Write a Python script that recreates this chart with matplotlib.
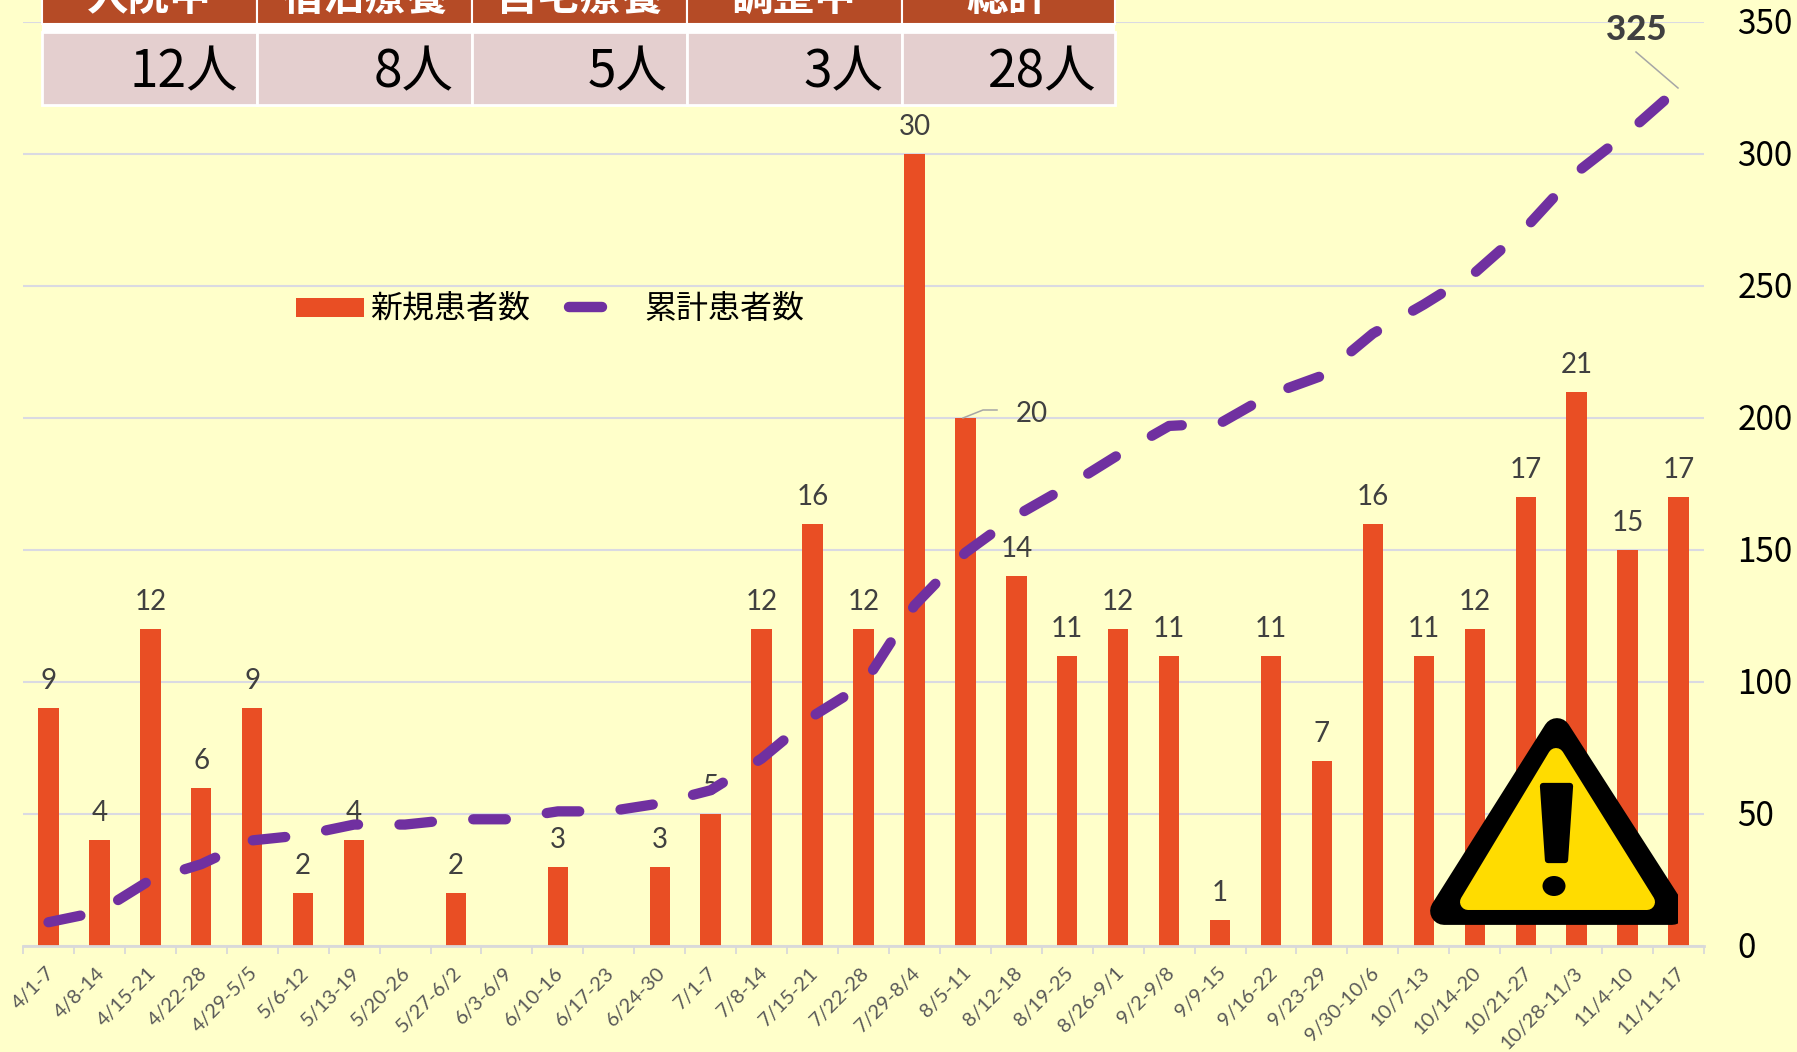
import matplotlib
matplotlib.use('Agg')
import matplotlib.pyplot as plt
from matplotlib.patches import Rectangle, Polygon, Ellipse
from matplotlib.transforms import ScaledTranslation

plt.rcParams['font.family'] = ['Noto Sans CJK JP', 'DejaVu Sans']
plt.rcParams['lines.scale_dashes'] = False

# data
weeks = ['4/1-7', '4/8-14', '4/15-21', '4/22-28', '4/29-5/5', '5/6-12', '5/13-19',
         '5/20-26', '5/27-6/2', '6/3-6/9', '6/10-16', '6/17-23', '6/24-30', '7/1-7',
         '7/8-14', '7/15-21', '7/22-28', '7/29-8/4', '8/5-11', '8/12-18', '8/19-25',
         '8/26-9/1', '9/2-9/8', '9/9-15', '9/16-22', '9/23-29', '9/30-10/6', '10/7-13',
         '10/14-20', '10/21-27', '10/28-11/3', '11/4-10', '11/11-17']
new_cases = [9, 4, 12, 6, 9, 2, 4, 0, 2, 0, 3, 0, 3, 5, 12, 16, 12, 30, 20, 14, 11,
             12, 11, 1, 11, 7, 16, 11, 12, 17, 21, 15, 17]
total_cases = [9, 13, 25, 31, 40, 42, 46, 46, 48, 48, 51, 51, 54, 59, 71, 87, 99, 129,
               149, 163, 174, 186, 197, 198, 209, 216, 232, 243, 255, 272, 293, 308, 325]
right_ticks = [0, 50, 100, 150, 200, 250, 300, 350]

table_head = ['入院中', '宿泊療養', '自宅療養', '調整中', '総計']
table_vals = ['12人', '8人', '5人', '3人', '28人']
legend_new = '新規患者数'
legend_total = '累計患者数'

W, H = 1797, 1052
BG = '#FFFFCA'
ORANGE = '#E94E24'
PURPLE = '#7030A0'
GRID = '#DADAE2'
LABEL = '#404040'

fig = plt.figure(figsize=(W / 100, H / 100), dpi=100, facecolor=BG)
ax = fig.add_axes([23 / W, (H - 946) / H, (1704 - 23) / W, (946 - 22) / H])
ax.set_facecolor(BG)

x = list(range(len(weeks)))
ax.bar(x, new_cases, width=0.4, color=ORANGE, zorder=2)
ax.set_xlim(-0.5, len(weeks) - 0.5)
ax.set_ylim(0, 35)
ax.set_yticks(range(0, 40, 5))
ax.tick_params(axis='y', length=0, labelleft=False)
ax.grid(axis='y', color=GRID, lw=1.5, zorder=0)
ax.set_axisbelow(True)
for s in ['top', 'left', 'right']:
    ax.spines[s].set_visible(False)
ax.spines['bottom'].set_color('#D9D9D9')
ax.spines['bottom'].set_linewidth(2)

ax.set_xticks(x)
ax.set_xticks([i - 0.5 for i in range(len(weeks) + 1)], minor=True)
ax.tick_params(axis='x', which='major', length=0, pad=13)
ax.tick_params(axis='x', which='minor', length=6, width=1.3, color='#D9D9D9')
ax.set_xticklabels(weeks, rotation=45, ha='right', va='top', rotation_mode='anchor',
                   fontsize=14.5, color='#595959', family='Lato')
shift = ScaledTranslation(-3 / 100, 0, fig.dpi_scale_trans)
for lab in ax.get_xticklabels():
    lab.set_transform(lab.get_transform() + shift)

# data labels, the 20 sits off to the side of its bar
for i, v in zip(x, new_cases):
    if v == 0:
        continue
    dx, dy = (48, 3) if i == 18 else (0, 19.5)
    ax.annotate(str(v), (i, v), xytext=(dx, dy), textcoords='offset points',
                ha='center', va='center', fontsize=20, color=LABEL, family='Lato', zorder=3)

ax2 = ax.twinx()
ax2.set_ylim(0, 350)
ax2.set_yticks(right_ticks)
ax2.tick_params(axis='y', length=0, pad=24, labelsize=24, labelcolor='black')
up = ScaledTranslation(0, 2 / 100, fig.dpi_scale_trans)
for lab in ax2.get_yticklabels():
    lab.set_transform(lab.get_transform() + up)
for s in ax2.spines.values():
    s.set_visible(False)
ax2.plot(x, total_cases, color=PURPLE, lw=7.4, linestyle=(0, (23.5, 29.8)),
         dash_capstyle='round', zorder=4)

# overlay in pixel coordinates for table, legend and the warning sign
ov = fig.add_axes([0, 0, 1, 1])
ov.set_xlim(0, W)
ov.set_ylim(H, 0)
ov.axis('off')
ov.patch.set_alpha(0)

col_x = [42, 257, 472, 687, 902, 1115]
for i in range(5):
    l, r = col_x[i], col_x[i + 1]
    ov.add_patch(Rectangle((l, -40), r - l, 64, fc='#B54B26', ec='white', lw=1.5))
    ov.add_patch(Rectangle((l, 32), r - l, 73, fc='#E4CFCF', ec='white', lw=2))
    ov.text((l + r) / 2, 10, table_head[i], ha='center', va='baseline', fontsize=30,
            fontweight='bold', color='white')
    ov.text(r - 19, 87, table_vals[i], ha='right', va='baseline', fontsize=37, color='black')
ov.add_patch(Rectangle((42, 24), 1073, 8, fc='white', ec='none'))

# legend
ov.add_patch(Rectangle((296, 298), 68, 19, fc=ORANGE, ec='none'))
ov.text(370, 309, legend_new, va='center', ha='left', fontsize=23, color='black')
ov.plot([569, 602], [307, 307], color=PURPLE, lw=7.5, solid_capstyle='round')
ov.text(644, 309, legend_total, va='center', ha='left', fontsize=23, color='black')

# 325 callout and the leader for 20
ov.text(1636, 30, '325', ha='center', va='center', fontsize=25, fontweight='black',
        color=LABEL, family='Lato')
ov.plot([1636, 1678], [52, 88], color='#A6A6A6', lw=1.1)
ov.plot([963, 983, 997], [418, 410, 410], color='#A6A6A6', lw=1.1)

# warning sign
clip = Rectangle((1400, 700), 278, 240, transform=ov.transData)
outer = Polygon([(1557, 732), (1444, 911), (1672, 911)], closed=True, fc='black', ec='black',
                lw=20, joinstyle='round', zorder=6)
ov.add_patch(outer)
outer.set_clip_path(clip)
ov.add_patch(Polygon([(1556, 756), (1468, 902), (1647, 902)], closed=True, fc='#FFDC00',
                     ec='#FFDC00', lw=11.5, joinstyle='round', zorder=7))
ov.add_patch(Polygon([(1543, 786), (1570, 786), (1565, 860), (1548, 860)], closed=True,
                     fc='black', ec='black', lw=4.5, joinstyle='round', zorder=8))
ov.add_patch(Ellipse((1554, 886), 23, 20, fc='black', ec='none', zorder=8))

fig.savefig('out.png', dpi=100, facecolor=BG)
